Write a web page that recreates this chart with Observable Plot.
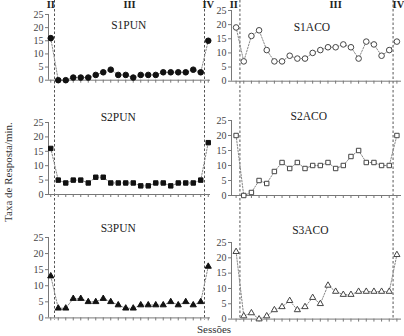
<!DOCTYPE html>
<html><head><meta charset="utf-8">
<script src="https://cdn.jsdelivr.net/npm/d3@7"></script>
<script src="https://cdn.jsdelivr.net/npm/@observablehq/plot@0.6"></script>
<style>
body{margin:0;background:#fff}
#root{position:relative;width:404px;height:336px;overflow:hidden;font-family:"Liberation Serif","Times New Roman",serif;background:#fff}
#root svg{position:absolute;display:block}
.lab{position:absolute;font-size:11px;line-height:11px;color:#333;white-space:nowrap}
</style></head><body><div id="root"></div>
<script>
// ---- data ----
const sessions = d3.range(22); // 0 = phase II, 1..20 = phase III, 21 = phase IV
const phaseLabels = ["II", "III", "IV"];
const phaseBounds = [0.5, 20.5];
const yTicks = [0, 5, 10, 15, 20, 25];
const panelNames = ["S1PUN", "S2PUN", "S3PUN", "S1ACO", "S2ACO", "S3ACO"];
const s1pun = [16, 0,0,1,1,1,2,3,4,2,2,1,2,2,2,3,3,3,3,4,3, 15];
const s2pun = [16, 5,4,5,5,4,6,6,4,4,4,4,3,3,4,4,3,4,4,4,5, 18];
const s3pun = [13, 3,3,6,6,5,5,6,5,4,3,3,4,4,4,4,5,4,5,4,5, 16];
const s1aco = [19, 7,16,18,11,7,7,9,8,8,10,11,12,12,13,12,8,14,13,9,11, 14];
const s2aco = [20, 0,1,5,4,8,11,9,11,9,10,10,11,9,10,13,15,11,11,10,10, 20];
const s3aco = [22, 1,2,0,1,3,4,6,3,4,7,5,11,9,8,8,9,9,9,9,9, 21];
const yLabel = "Taxa de Resposta/min.";
const xLabel = "Sessões";

// ---- layout ----
const FONT = '"Liberation Serif","Times New Roman",serif';
const cols = [
  {left: 0, width: 212, ml: 48, mr: 2, xDomain: [-0.3, 21.3], phaseAt: [0, 10.5, 21]},
  {left: 212, width: 192, ml: 19, mr: 3, xDomain: [-0.6, 21.6], phaseAt: [-0.3, 13, 21.2]}
];
const markerR = {circle: 2.8, square: 2.5, triangle: 2.3};
const panels = [
  {name: panelNames[0], values: s1pun, col: 0, symbol: "circle", filled: true,  top: 14.3, bottom: 80,    tx: 10.4, ty: 25},
  {name: panelNames[1], values: s2pun, col: 0, symbol: "square", filled: true,  top: 122.3, bottom: 194.3, tx: 9,  ty: 116.7},
  {name: panelNames[2], values: s3pun, col: 0, symbol: "triangle", filled: true, top: 237.3, bottom: 317.7, tx: 9, ty: 228},
  {name: panelNames[3], values: s1aco, col: 1, symbol: "circle", filled: false, top: 10, bottom: 80.7,   tx: 9.9, ty: 27},
  {name: panelNames[4], values: s2aco, col: 1, symbol: "square", filled: false, top: 120, bottom: 195,   tx: 9.5, ty: 116},
  {name: panelNames[5], values: s3aco, col: 1, symbol: "triangle", filled: false, top: 241.7, bottom: 318.3, tx: 9.7, ty: 230}
];

const root = document.getElementById("root");

// dashed phase separators + phase labels (one overlay per column, behind the panels)
for (const col of cols) {
  const svg = Plot.plot({
    width: col.width, height: 336,
    marginLeft: col.ml, marginRight: col.mr, marginTop: 0, marginBottom: 16,
    style: {background: "transparent", fontFamily: FONT, overflow: "visible"},
    x: {domain: col.xDomain, axis: null},
    marks: [
      Plot.ruleX(phaseBounds, {stroke: "#555", strokeWidth: 1, strokeDasharray: "2.5,2"}),
      Plot.text(phaseLabels, {x: (d, i) => col.phaseAt[i], text: d => d, frameAnchor: "top", lineAnchor: "top",
        fontWeight: "bold", fontSize: 10.5, fill: "#222"})
    ]
  });
  svg.style.left = col.left + "px";
  svg.style.top = "0px";
  root.appendChild(svg);
}

for (const p of panels) {
  const col = cols[p.col];
  const mt = 14, mb = 10;
  const data = sessions.map((s, i) => ({session: s, rate: p.values[i]}));
  const svg = Plot.plot({
    width: col.width, height: (p.bottom - p.top) + mt + mb,
    marginLeft: col.ml, marginRight: col.mr, marginTop: mt, marginBottom: mb,
    style: {background: "transparent", fontFamily: FONT, fontSize: "10px", color: "#444", overflow: "visible"},
    x: {domain: col.xDomain, axis: null},
    y: {domain: [0, 25], axis: null},
    marks: [
      Plot.axisY({ticks: yTicks, tickSize: 3, tickPadding: 2, label: null, stroke: "#777", fill: "#444", fontSize: 10}),
      // session tick marks hanging below the baseline
      Plot.ruleX(sessions, {x: d => d, y1: 0, y2: 0, insetBottom: -3, stroke: "#777"}),
      Plot.ruleY([0], {stroke: "#777"}),
      Plot.ruleX([col.xDomain[0]], {stroke: "#777"}),
      Plot.line(data, {x: "session", y: "rate", stroke: "#888", strokeWidth: 1, strokeDasharray: "1.5,1.5"}),
      Plot.dot(data, {x: "session", y: "rate", symbol: p.symbol, r: markerR[p.symbol],
        fill: p.filled ? "#111" : "white", stroke: p.filled ? "#111" : "#444", strokeWidth: 1}),
      Plot.text([p.name], {x: p.tx, text: d => d, frameAnchor: "top", dy: p.ty - p.top, lineAnchor: "middle",
        fontSize: 11.5, fill: "#222"})
    ]
  });
  svg.style.left = col.left + "px";
  svg.style.top = (p.top - mt) + "px";
  root.appendChild(svg);
}

// axis titles
const yl = document.createElement("div");
yl.className = "lab";
yl.textContent = yLabel;
yl.style.left = "8px";
yl.style.top = "172px";
yl.style.transform = "translate(-50%,-50%) rotate(-90deg)";
root.appendChild(yl);

const xl = document.createElement("div");
xl.className = "lab";
xl.textContent = xLabel;
xl.style.left = "214px";
xl.style.top = "324px";
xl.style.transform = "translateX(-50%)";
root.appendChild(xl);
</script>
</body></html>
